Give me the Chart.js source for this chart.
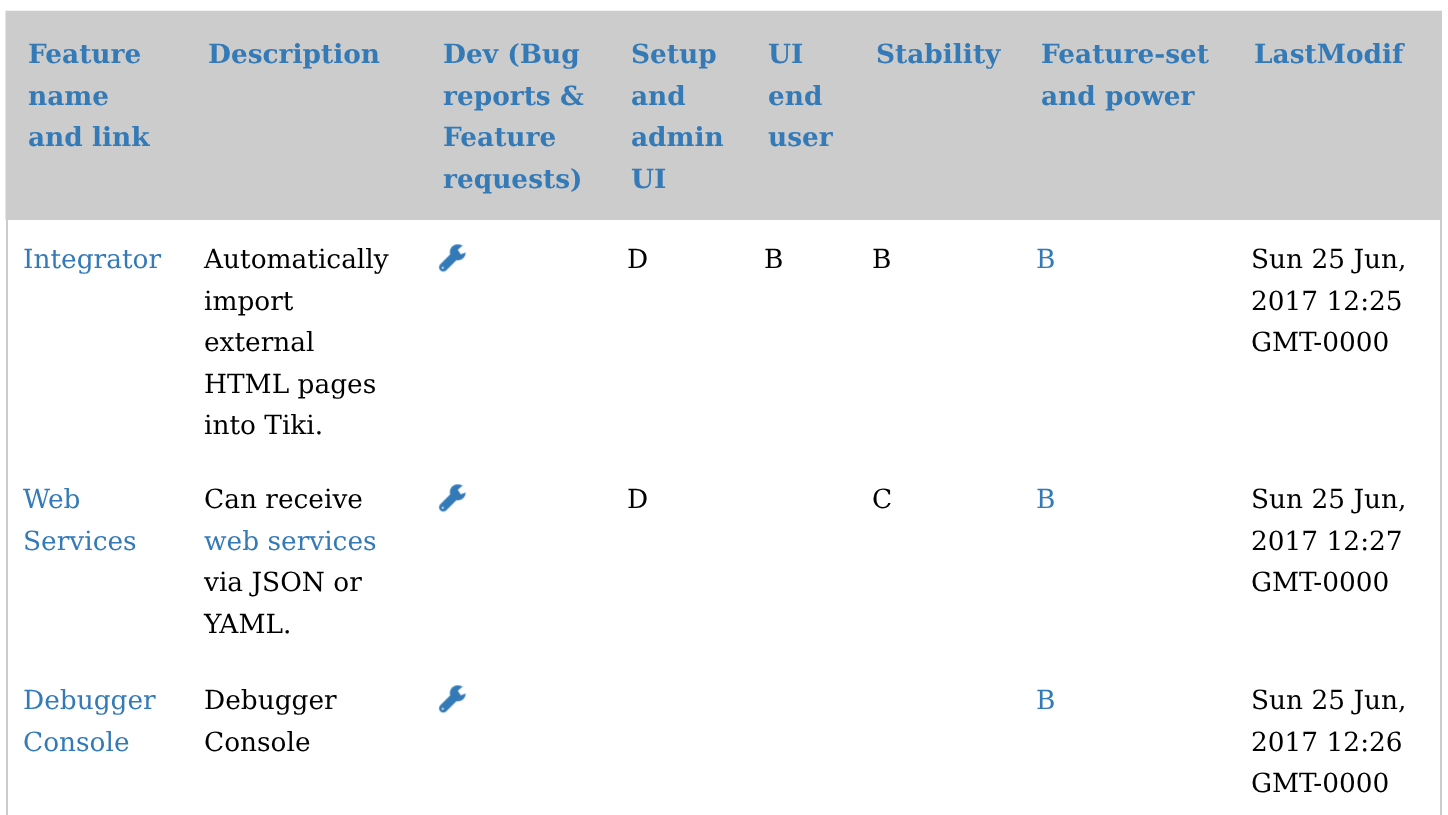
<!DOCTYPE html>
<html>
<head>
<meta charset="utf-8">
<title>Features table</title>
<script src="https://cdn.jsdelivr.net/npm/chart.js@4"></script>
<style>
  html, body { margin:0; padding:0; background:#fff; overflow:hidden; }
  canvas { display:block; }
</style>
</head>
<body>
<canvas id="tableChart" width="1448" height="815"></canvas>
<script>
// table content
const headers = [
  ['Feature','name','and link'],
  ['Description'],
  ['Dev (Bug','reports &','Feature','requests)'],
  ['Setup','and','admin','UI'],
  ['UI','end','user'],
  ['Stability'],
  ['Feature-set','and power'],
  ['LastModif']
];
const featureNames = [['Integrator'],['Web','Services'],['Debugger','Console']];
const descriptions = [
  ['Automatically','import','external','HTML pages','into Tiki.'],
  ['Can receive','web services','via JSON or','YAML.'],
  ['Debugger','Console']
];
const descriptionLinks = ['web services'];
const setupGrades = ['D','D',''];
const uiGrades = ['B','',''];
const stabilityGrades = ['B','C',''];
const featureGrades = ['B','B','B'];
const lastModified = [
  ['Sun 25 Jun,','2017 12:25','GMT-0000'],
  ['Sun 25 Jun,','2017 12:27','GMT-0000'],
  ['Sun 25 Jun,','2017 12:26','GMT-0000']
];

// layout, in page pixels
const headColX = [28,208,443,631,768,876,1041,1254];
const bodyColX = [23,204,439,627,764,872,1036,1251];
const headBase = 63.3, lineH = 41.5;
const rowBase = [268,508,709];
const FONT = '"DejaVu Serif", serif';
const BODY_FONT = '26.4px '+FONT, HEAD_FONT = 'bold 26.4px '+FONT;
const LINK = '#337ab7', HEAD_BG = '#cccccc';

const dark = '#000';
const cells = [];
function addCell(lines, x, base, font, color){
  lines.forEach((t,i) => {
    if (!t) return;
    cells.push({ x, y: base + i*lineH, t, font, color: color(t) });
  });
}
headers.forEach((h,i) => addCell(h, headColX[i], headBase, HEAD_FONT, () => LINK));
rowBase.forEach((base,r) => {
  addCell(featureNames[r], bodyColX[0], base, BODY_FONT, () => LINK);
  addCell(descriptions[r], bodyColX[1], base, BODY_FONT, t => descriptionLinks.includes(t) ? LINK : dark);
  addCell([setupGrades[r]], bodyColX[3], base, BODY_FONT, () => dark);
  addCell([uiGrades[r]], bodyColX[4], base, BODY_FONT, () => dark);
  addCell([stabilityGrades[r]], bodyColX[5], base, BODY_FONT, () => dark);
  addCell([featureGrades[r]], bodyColX[6], base, BODY_FONT, () => LINK);
  addCell(lastModified[r], bodyColX[7], base, BODY_FONT, () => dark);
});

// wrench icon used as point style
const icon = document.createElement('canvas');
icon.width = 34; icon.height = 34;
{
  const c = icon.getContext('2d');
  c.translate(3.5, 3.5);
  c.strokeStyle = c.fillStyle = LINK;
  c.lineCap = 'round';
  c.lineWidth = 8.5;
  c.beginPath(); c.moveTo(4.5, 22.5); c.lineTo(15, 12); c.stroke();
  c.beginPath(); c.arc(19, 7.5, 8, 0, Math.PI*2); c.fill();
  // jaw and hanging hole
  c.globalCompositeOperation = 'destination-out';
  c.beginPath(); c.moveTo(19, 5); c.lineTo(23, 1.5); c.lineTo(29, 1); c.lineTo(29, 7); c.lineTo(22, 9.5); c.closePath(); c.fill();
  c.beginPath(); c.arc(4, 23, 1, 0, Math.PI*2); c.fill();
}

const tablePlugin = {
  id: 'tablePlugin',
  beforeDatasetsDraw(chart){
    const { ctx, scales:{x,y} } = chart;
    ctx.save();
    ctx.fillStyle = HEAD_BG;
    ctx.fillRect(x.getPixelForValue(5.5), y.getPixelForValue(10.7), x.getPixelForValue(1442)-x.getPixelForValue(5.5), y.getPixelForValue(220)-y.getPixelForValue(10.7));
    ctx.restore();
  },
  afterDatasetsDraw(chart){
    const { ctx, scales:{x,y} } = chart;
    ctx.save();
    ctx.textBaseline = 'alphabetic';
    ctx.textRendering = 'geometricPrecision';
    ctx.fontKerning = 'normal';
    cells.forEach(c => {
      ctx.font = c.font;
      ctx.fillStyle = c.color;
      ctx.fillText(c.t, x.getPixelForValue(c.x), y.getPixelForValue(c.y));
    });
    ctx.restore();
  }
};

function border(px){
  return { data:[{x:px,y:220},{x:px,y:815}], showLine:true, borderColor:HEAD_BG, borderWidth:2, pointRadius:0 };
}

new Chart(document.getElementById('tableChart'), {
  type: 'scatter',
  data: { datasets: [
    border(7),
    border(1441),
    { data: rowBase.map(b => ({ x: bodyColX[2]+13.3, y: b-9.7 })), pointStyle: icon, pointRadius: 17 }
  ]},
  options: {
    responsive:false, animation:false, events:[],
    layout:{ padding:0, autoPadding:false },
    plugins:{ legend:{display:false}, tooltip:{enabled:false} },
    scales:{
      x:{ type:'linear', display:false, min:0, max:1448 },
      y:{ type:'linear', display:false, min:0, max:815, reverse:true }
    }
  },
  plugins:[tablePlugin]
});
</script>
</body>
</html>
